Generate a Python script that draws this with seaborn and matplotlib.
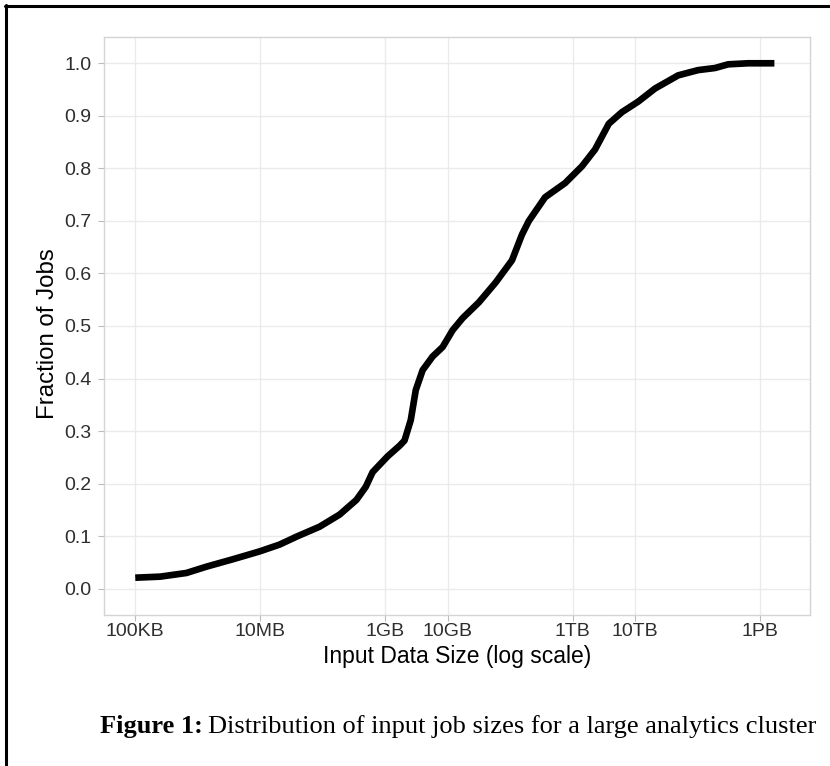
import numpy as np
import pandas as pd
import matplotlib
matplotlib.use("Agg")
import matplotlib.pyplot as plt
from matplotlib.lines import Line2D
import seaborn as sns

# ---- data ----
size_log10 = [5.00, 5.40, 5.82, 6.14, 6.56, 6.99, 7.31, 7.58, 7.95, 8.27,
              8.54, 8.69, 8.80, 9.04, 9.23, 9.31, 9.41, 9.49, 9.60, 9.76,
              9.92, 10.08, 10.24, 10.50, 10.77, 11.03, 11.19, 11.30, 11.56, 11.88,
              12.15, 12.36, 12.58, 12.79, 13.05, 13.32, 13.69, 14.01, 14.28, 14.49,
              14.81, 15.23]
fraction = [0.021, 0.023, 0.030, 0.042, 0.056, 0.071, 0.084, 0.099, 0.118, 0.141,
            0.169, 0.194, 0.222, 0.252, 0.272, 0.282, 0.321, 0.378, 0.416, 0.442,
            0.460, 0.492, 0.515, 0.545, 0.583, 0.625, 0.674, 0.700, 0.745, 0.772,
            0.804, 0.836, 0.885, 0.907, 0.927, 0.952, 0.977, 0.987, 0.991, 0.998,
            1.000, 1.000]
x_tick_values = [1e5, 1e7, 1e9, 1e10, 1e12, 1e13, 1e15]
x_tick_labels = ["100KB", "10MB", "1GB", "10GB", "1TB", "10TB", "1PB"]
y_tick_values = [0.0, 0.1, 0.2, 0.3, 0.4, 0.5, 0.6, 0.7, 0.8, 0.9, 1.0]

df = pd.DataFrame({"size": np.power(10.0, size_log10), "frac": fraction})

sns.set_theme(style="whitegrid")
plt.rcParams["font.family"] = ["Liberation Sans", "DejaVu Sans"]

W, H = 830, 766
fig = plt.figure(figsize=(W / 100, H / 100), dpi=100)
fig.patch.set_facecolor("white")
ax = fig.add_axes([104 / W, 1 - 615 / H, (810 - 104) / W, (615 - 37) / H])

sns.lineplot(data=df, x="size", y="frac", ax=ax, color="black", linewidth=4.8,
             solid_capstyle="butt", solid_joinstyle="round")

ax.set_xscale("log")
ax.set_xlim(10 ** 4.5, 10 ** 15.8)
ax.set_ylim(-0.05, 1.05)
ax.set_xticks(x_tick_values)
ax.set_xticklabels(x_tick_labels)
ax.xaxis.set_minor_locator(matplotlib.ticker.NullLocator())
ax.set_yticks(y_tick_values)
ax.set_yticklabels([f"{v:.1f}" for v in y_tick_values])

ax.set_facecolor("white")
ax.grid(True, which="major", color="#EBEBEB", linewidth=1.0)
for s in ax.spines.values():
    s.set_visible(True)
    s.set_color("#D4D4D4")
    s.set_linewidth(1.0)

ax.tick_params(axis="both", which="major", length=4, width=0.8, color="#BBBBBB",
               labelsize=14, labelcolor="#2E2E2E", direction="out",
               bottom=True, left=True)
ax.tick_params(axis="y", pad=5)
ax.tick_params(axis="x", pad=2)

ax.set_xlabel("Input Data Size (log scale)", fontsize=16.5, color="black", labelpad=3)
ax.set_ylabel("Fraction of Jobs", fontsize=17.3, color="black")
ax.yaxis.set_label_coords(-0.0637, 0.486)

# caption
fig.canvas.draw()
r = fig.canvas.get_renderer()
cap_size = 19
t1 = fig.text(100 / W, 1 - 727 / H, "Figure 1:", fontsize=cap_size, fontweight="bold",
              family=["Liberation Serif", "DejaVu Serif"], ha="left", va="center", color="black")
bb = t1.get_window_extent(renderer=r)
fig.text((bb.x1 + 5) / W, 1 - 727 / H,
         "Distribution of input job sizes for a large analytics cluster",
         fontsize=cap_size, family=["Liberation Serif", "DejaVu Serif"], ha="left",
         va="center", color="black")

# outer frame (top and left edges visible)
fig.add_artist(Line2D([5 / W, 1.0], [1 - 6 / H, 1 - 6 / H], color="black", linewidth=2.2,
                      transform=fig.transFigure))
fig.add_artist(Line2D([6 / W, 6 / W], [0.0, 1 - 5 / H], color="black", linewidth=2.2,
                      transform=fig.transFigure))

fig.savefig("out.png", dpi=100, facecolor="white")
